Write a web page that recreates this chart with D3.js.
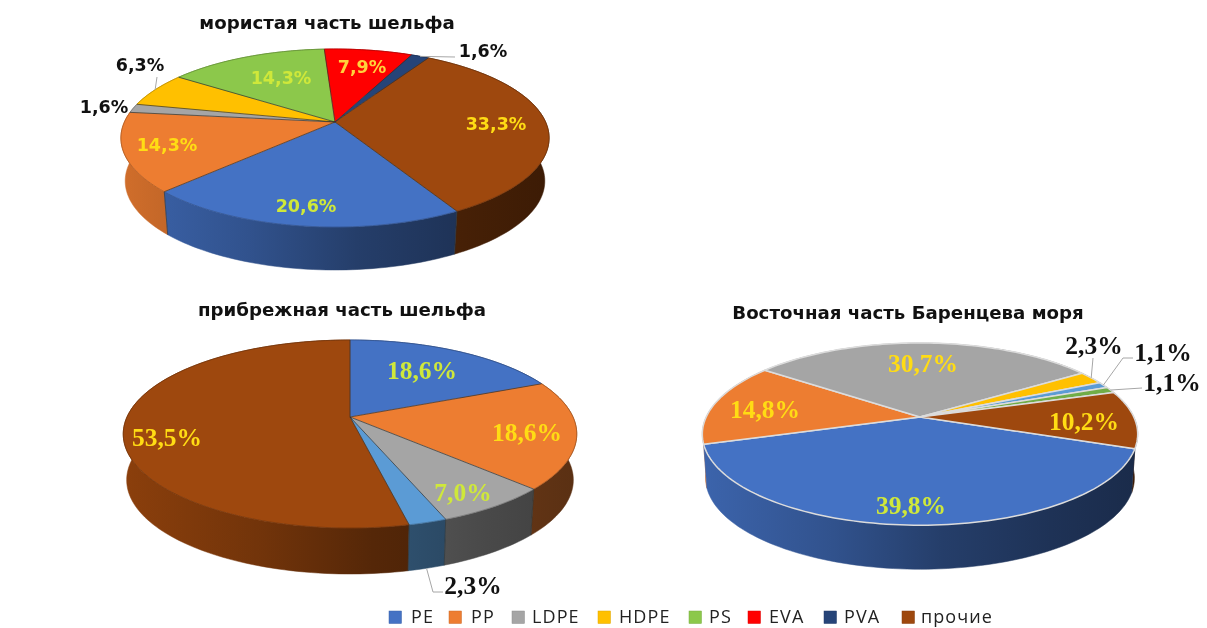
<!DOCTYPE html>
<html><head><meta charset="utf-8">
<script src="https://cdn.jsdelivr.net/npm/d3@7/dist/d3.min.js"></script>
<style>html,body{margin:0;padding:0;background:#fff}svg{display:block;filter:blur(.5px)}</style>
</head><body><svg id="c" width="1207" height="628"></svg>
<script>
// ---- data ----
const offshoreNames = ["PE","PP","LDPE","HDPE","PS","EVA","PVA","прочие"];
const offshoreValues = [20.6,14.3,1.6,6.3,14.3,7.9,1.6,33.3];
const coastalNames = ["PE","PP","LDPE","PVA2","прочие"];
const coastalValues = [18.6,18.6,7.0,2.3,53.5];
const easternNames = ["PE","PP","LDPE","HDPE","PVA2","PS2","прочие"];
const easternValues = [39.8,14.8,30.7,2.3,1.1,1.1,10.2];
const legendNames = ["PE","PP","LDPE","HDPE","PS","EVA","PVA","прочие"];

// ---- styles & layout ----
const colors = {PE:"#4472c4",PP:"#ed7d31",LDPE:"#a5a5a5",HDPE:"#ffc000",PS:"#8cc84b",EVA:"#ff0000",PVA:"#264478",
  "прочие":"#9e480e",PVA2:"#5b9bd5",PS2:"#70ad47"};
const Y="#ffdc14", G="#cfe83a", K="#111";
const charts = [
 {title:"мористая часть шельфа",tx:327,ty:29,names:offshoreNames,values:offshoreValues,start:150.8,
  ax:335,ay:122,a:210.6,b:86.1,k:.18,dy:43,sx:.98,stroke:"#33302c",sw:.7,rim:null,
  font:'bold 17.5px "DejaVu Sans"',
  labels:[[306,206,G],[167,145,Y],[104,107,K],[140,65,K],[281,78,G],[362,67,"#ffd23c"],[483,51,K],[496,124,Y]],
  leaders:[null,null,null,{via:[[157,77]],top:true},null,null,{via:[[455,57]],top:true},null]},
 {title:"прибрежная часть шельфа",tx:342,ty:316,names:coastalNames,values:coastalValues,start:0,
  ax:350,ay:417,a:223,b:90.9,k:.181,dy:46,sx:.985,stroke:"#33302c",sw:.7,rim:null,
  font:'bold 25.5px "Liberation Serif"',
  labels:[[422,370,G],[527,432,Y],[463,492,G],[473,585,K],[167,437,Y]],
  leaders:[null,null,null,{via:[[433,592],[443,592]],top:false},null]},
 {title:"Восточная часть Баренцева моря",tx:908,ty:319,names:easternNames,values:easternValues,start:109.7,
  ax:920,ay:417,a:213.8,b:87.9,k:.188,dy:44,sx:.985,stroke:"#dcdcdc",sw:1.5,rim:"#dcdcdc",
  font:'bold 25.5px "Liberation Serif"',
  labels:[[911,505,G],[765,409,Y],[923,363,Y],[1094,345,K],[1163,352,K],[1172,382,K],[1084,421,Y]],
  leaders:[null,null,null,{via:[[1093,358]],top:true},{via:[[1123,358],[1133,358]],top:true},{via:[[1142,388]],top:true},null]}
];
const legendX=[389,449,512,598,689,748,824,902];
const legendTextX=[411,471,532,619,709,769,844,921];

const svg=d3.select("#c");
const defs=svg.append("defs");
const rad=Math.PI/180, TAU=Math.PI*2;
const shade=[[0,.12],[.3,.28],[.55,.46],[.8,.56],[1,.62]];

charts.forEach((ch,ci)=>{
  const pie=d3.pie().sort(null).value(d=>d)
    .startAngle(ch.start*rad).endAngle(ch.start*rad+TAU);
  const arcs=pie(ch.values);
  const w=ch.a*1.02;
  const project=(ang,r=1,bottom=false)=>{
    const u=Math.sin(ang)*r, v=-Math.cos(ang)*r, d=1-ch.k*v;
    const s=bottom?ch.sx:1;
    return [ch.ax+ch.a*u/d*s, ch.ay+ch.b*v/d+(bottom?ch.dy:0)];
  };
  const rimPts=(a0,a1,bottom=false)=>{
    const n=Math.max(2,Math.ceil((a1-a0)/(1.5*rad)));
    return d3.range(n+1).map(i=>project(a0+(a1-a0)*i/n,1,bottom));
  };
  const line=d3.line();
  const g=svg.append("g");

  // side gradients
  ch.names.forEach((nm,i)=>{
    const lg=defs.append("linearGradient").attr("id",`g${ci}-${i}`).attr("gradientUnits","userSpaceOnUse")
      .attr("x1",ch.ax-w).attr("x2",ch.ax+w).attr("y1",0).attr("y2",0);
    shade.forEach(([o,t])=>lg.append("stop").attr("offset",o).attr("stop-color",d3.interpolateRgb(colors[nm],"#000")(t)));
  });
  // side walls, back to front
  const dist=a=>Math.abs(Math.atan2(Math.sin((a.startAngle+a.endAngle)/2),Math.cos((a.startAngle+a.endAngle)/2)));
  const order=arcs.map((a,i)=>i).sort((p,q)=>dist(arcs[p])-dist(arcs[q]));
  order.forEach(i=>{
    const a=arcs[i];
    const top=rimPts(a.startAngle,a.endAngle), bot=rimPts(a.startAngle,a.endAngle,true).reverse();
    g.append("path").attr("d",line(top.concat(bot))+"Z")
      .attr("fill",`url(#g${ci}-${i})`)
      .attr("stroke",`url(#g${ci}-${i})`).attr("stroke-width",.5);
  });
  // top faces
  arcs.forEach((a,i)=>{
    const pts=[[ch.ax,ch.ay]].concat(rimPts(a.startAngle,a.endAngle));
    const c=colors[ch.names[i]];
    g.append("path").attr("d",line(pts)+"Z").attr("fill",c)
      .attr("stroke",ch.rim?ch.stroke:c).attr("stroke-width",ch.rim?ch.sw:.4).attr("stroke-linejoin","round");
    if(!ch.rim){
      g.append("path").attr("d",line(rimPts(a.startAngle,a.endAngle))).attr("fill","none")
        .attr("stroke",d3.color(c).darker(1)).attr("stroke-width",.7);
    }
  });
  // radial dividers
  if(!ch.rim) arcs.forEach(a=>{
    g.append("path").attr("d",line([[ch.ax,ch.ay],project(a.startAngle)])).attr("fill","none")
      .attr("stroke",ch.stroke).attr("stroke-width",ch.sw);
    const p=project(a.startAngle);
    if(p[1]>ch.ay) g.append("path").attr("d",line([p,project(a.startAngle,1,true)])).attr("fill","none")
      .attr("stroke",ch.stroke).attr("stroke-width",.6);
  });
  // leaders
  ch.leaders.forEach((l,i)=>{
    if(!l) return;
    const a=arcs[i], mid=(a.startAngle+a.endAngle)/2;
    const p=project(mid,1,!l.top);
    g.append("path").attr("d",line([p,...l.via])).attr("fill","none").attr("stroke","#a6a6a6").attr("stroke-width",1);
  });
  // value labels
  ch.labels.forEach(([x,y,c],i)=>{
    g.append("text").attr("x",x).attr("y",y).attr("text-anchor","middle").attr("dominant-baseline","central")
      .style("font",ch.font).attr("fill",c).text(ch.values[i].toFixed(1).replace(".",",")+"%");
  });
  // title
  g.append("text").attr("x",ch.tx).attr("y",ch.ty).attr("text-anchor","middle")
    .style("font",'bold 18.2px "DejaVu Sans"').attr("fill","#111").text(ch.title);
});

// legend
const lg=svg.append("g");
legendNames.forEach((nm,i)=>{
  lg.append("rect").attr("x",legendX[i]).attr("y",611).attr("width",12.5).attr("height",12.5)
    .attr("fill",colors[nm]).attr("stroke",d3.color(colors[nm]).darker(.4)).attr("stroke-width",.5);
  lg.append("text").attr("x",legendTextX[i]).attr("y",622.5)
    .style("font",'18px "Open Sans"').style("letter-spacing","1.1px").attr("fill","#222").text(nm);
});
</script></body></html>
